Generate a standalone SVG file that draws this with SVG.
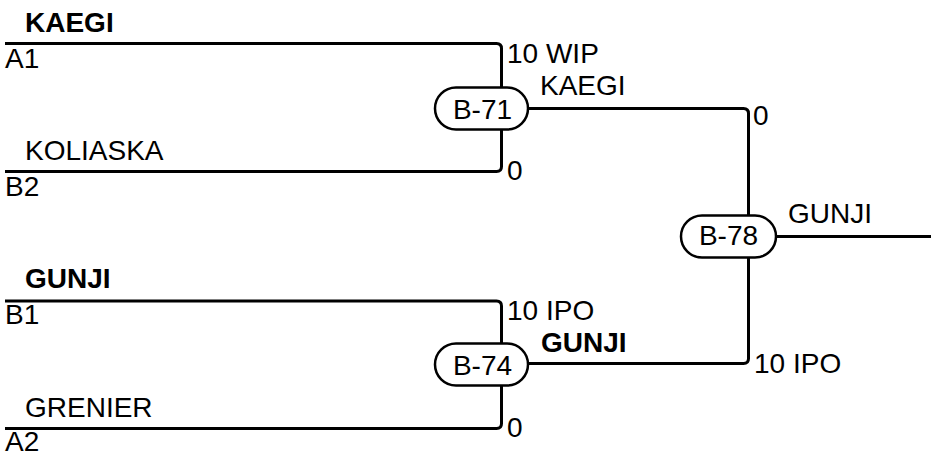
<svg xmlns="http://www.w3.org/2000/svg" width="931" height="453" viewBox="0 0 931 453">
<style>
text{font-family:"Liberation Sans",Arial,sans-serif;font-size:28px;fill:#000}
.b{font-weight:bold}
.m{text-anchor:middle}
.ln{fill:none;stroke:#000;stroke-width:3}
.pill{fill:#fff;stroke:#000;stroke-width:2.5}
</style>
<rect width="931" height="453" fill="#fff"/>
<g id="connectors">
<path class="ln" d="M5,43.5 H496.5 Q501.5,43.5 501.5,48.5 V166.5 Q501.5,171.5 496.5,171.5 H5"/>
<path class="ln" d="M5,301 H496.5 Q501.5,301 501.5,306 V423.5 Q501.5,428.5 496.5,428.5 H5"/>
<path class="ln" d="M528,108.5 H743.5 Q748.5,108.5 748.5,113.5 V358.5 Q748.5,363.5 743.5,363.5 H528"/>
<path class="ln" d="M776,236.5 H931"/>
<text x="507" y="63">10 WIP</text>
<text x="540" y="95">KAEGI</text>
<text x="507" y="180">0</text>
<text x="753" y="125">0</text>
<text x="507" y="319.5">10 IPO</text>
<text class="b" x="541" y="352">GUNJI</text>
<text x="507" y="437">0</text>
<text x="754" y="372.5">10 IPO</text>
<text x="788" y="223">GUNJI</text>
</g>
<g id="entrant-A1"><text class="b" x="25" y="32">KAEGI</text><text x="5" y="68">A1</text></g>
<g id="entrant-B2"><text x="25" y="160">KOLIASKA</text><text x="5" y="196">B2</text></g>
<g id="entrant-B1"><text class="b" x="25" y="288">GUNJI</text><text x="5" y="324">B1</text></g>
<g id="entrant-A2"><text x="25" y="417">GRENIER</text><text x="5" y="451">A2</text></g>
<g id="B-71"><rect class="pill" x="435" y="87.5" width="93" height="42" rx="21"/><text class="m" x="482.5" y="119">B-71</text></g>
<g id="B-74"><rect class="pill" x="435" y="343.5" width="93" height="42" rx="21"/><text class="m" x="482.5" y="375">B-74</text></g>
<g id="B-78"><rect class="pill" x="681" y="215.5" width="95" height="42" rx="21"/><text class="m" x="728.5" y="245">B-78</text></g>
</svg>
